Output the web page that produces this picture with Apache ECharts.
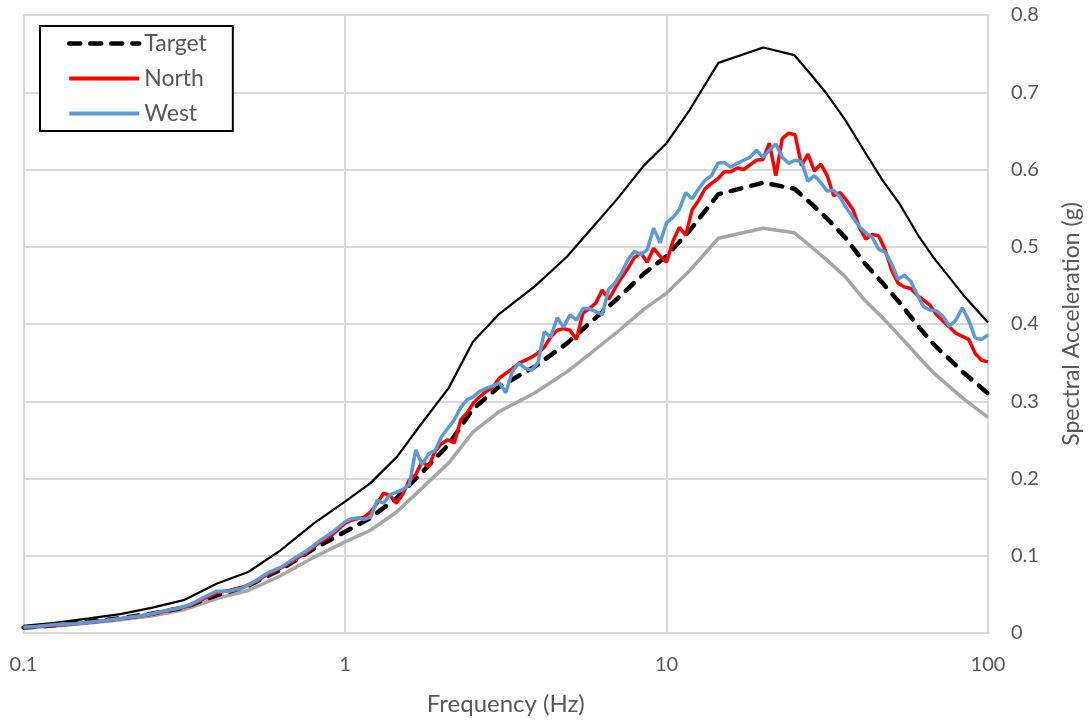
<!DOCTYPE html>
<html>
<head>
<meta charset="utf-8">
<script src="https://cdn.jsdelivr.net/npm/echarts@6/dist/echarts.min.js"></script>
<style>
html,body{margin:0;padding:0;background:#fff;}
#chart{width:1091px;height:724px;}
</style>
</head>
<body>
<div id="chart"></div>
<script>
// Bound / target spectra (frequency in Hz, acceleration in g)
var freqB = [0.1, 0.125, 0.16, 0.2, 0.25, 0.315, 0.4, 0.5, 0.63, 0.8, 1.0, 1.2, 1.45, 1.7, 2.1, 2.5, 3.0, 3.9, 4.9, 5.8, 7.0, 8.5, 10, 11.8, 14.5, 20, 25, 28, 31.5, 36, 41.5, 47, 53, 61, 68, 84, 100];
var target = [0.0072, 0.0100, 0.0148, 0.0190, 0.0250, 0.0330, 0.0490, 0.0610, 0.0820, 0.1090, 0.1310, 0.1490, 0.1750, 0.2040, 0.2440, 0.2900, 0.3180, 0.3450, 0.3750, 0.4020, 0.4320, 0.4650, 0.4880, 0.5210, 0.5680, 0.5830, 0.5750, 0.5570, 0.5370, 0.5120, 0.4780, 0.4530, 0.4280, 0.3960, 0.3730, 0.3370, 0.3100];
var upper = [0.0094, 0.0130, 0.0190, 0.0245, 0.0325, 0.0425, 0.0640, 0.0790, 0.1070, 0.1420, 0.1700, 0.1940, 0.2280, 0.2670, 0.3170, 0.3770, 0.4120, 0.4490, 0.4870, 0.5220, 0.5610, 0.6050, 0.6340, 0.6770, 0.7380, 0.7580, 0.7480, 0.7240, 0.6980, 0.6640, 0.6220, 0.5860, 0.5560, 0.5130, 0.4850, 0.4370, 0.4020];
var lower = [0.0065, 0.009, 0.013, 0.017, 0.022, 0.030, 0.045, 0.055, 0.074, 0.098, 0.118, 0.133, 0.157, 0.184, 0.220, 0.260, 0.286, 0.311, 0.338, 0.362, 0.389, 0.419, 0.440, 0.469, 0.511, 0.524, 0.518, 0.501, 0.483, 0.461, 0.430, 0.408, 0.385, 0.357, 0.336, 0.303, 0.279];

// Recorded spectra
var freq = [0.1, 0.1096, 0.1202, 0.1318, 0.1445, 0.1585, 0.1738, 0.1905, 0.2089, 0.2291, 0.2512, 0.2754, 0.302, 0.3311, 0.3631, 0.3981, 0.4365, 0.4786, 0.5248, 0.5754, 0.631, 0.6918, 0.7586, 0.8318, 0.912,
  1, 1.047, 1.096, 1.148, 1.202, 1.259, 1.318, 1.38, 1.445, 1.514, 1.585, 1.66, 1.738, 1.82, 1.905, 1.995, 2.089, 2.188, 2.291, 2.399, 2.512, 2.63, 2.754, 2.884, 3.02, 3.162, 3.311, 3.467, 3.631, 3.802, 3.981, 4.169, 4.365, 4.571, 4.786, 5.012, 5.248, 5.495, 5.754, 6.026, 6.31, 6.607, 6.918, 7.244, 7.586, 7.943, 8.318, 8.71, 9.12, 9.55,
  10, 10.47, 10.96, 11.48, 12.02, 12.59, 13.18, 13.8, 14.45, 15.14, 15.85, 16.6, 17.38, 18.2, 19.05, 19.95, 20.89, 21.88, 22.91, 23.99, 25.12, 26.3, 27.54, 28.84, 30.2, 31.62, 33.11, 34.67, 36.31, 38.02, 39.81, 41.69, 43.65, 45.71, 47.86, 50.12, 52.48, 54.95, 57.54, 60.26, 63.1, 66.07, 69.18, 72.44, 75.86, 79.43, 83.18, 87.1, 91.2, 95.5, 100];
var north = [0.0075, 0.0083, 0.0095, 0.0108, 0.0120, 0.0135, 0.0153, 0.0172, 0.0195, 0.0218, 0.0247, 0.0283, 0.0318, 0.0360, 0.0440, 0.0520, 0.0550, 0.0590, 0.0660, 0.0760, 0.0840, 0.0940, 0.1040, 0.1170, 0.1270,
  0.142, 0.146, 0.148, 0.150, 0.157, 0.168, 0.181, 0.178, 0.168, 0.180, 0.198, 0.205, 0.222, 0.215, 0.235, 0.245, 0.250, 0.246, 0.276, 0.285, 0.298, 0.306, 0.313, 0.318, 0.330, 0.336, 0.342, 0.349, 0.353, 0.357, 0.362, 0.370, 0.383, 0.392, 0.394, 0.392, 0.380, 0.414, 0.420, 0.427, 0.444, 0.432, 0.446, 0.460, 0.472, 0.486, 0.492, 0.480, 0.498, 0.488,
  0.480, 0.507, 0.525, 0.515, 0.548, 0.560, 0.575, 0.582, 0.588, 0.597, 0.597, 0.602, 0.600, 0.606, 0.612, 0.613, 0.634, 0.592, 0.640, 0.647, 0.645, 0.605, 0.620, 0.598, 0.607, 0.592, 0.566, 0.570, 0.560, 0.548, 0.525, 0.510, 0.516, 0.514, 0.496, 0.470, 0.453, 0.448, 0.446, 0.437, 0.431, 0.424, 0.412, 0.404, 0.396, 0.388, 0.384, 0.380, 0.362, 0.353, 0.351];
var west = [0.0075, 0.0085, 0.0100, 0.0115, 0.0118, 0.0135, 0.0155, 0.0175, 0.0197, 0.0220, 0.0250, 0.0290, 0.0320, 0.0370, 0.0460, 0.0540, 0.0540, 0.0580, 0.0670, 0.0780, 0.0850, 0.0960, 0.1060, 0.1190, 0.1300,
  0.144, 0.148, 0.149, 0.147, 0.150, 0.172, 0.168, 0.179, 0.182, 0.186, 0.192, 0.237, 0.218, 0.232, 0.236, 0.254, 0.265, 0.276, 0.292, 0.302, 0.306, 0.313, 0.317, 0.320, 0.324, 0.311, 0.338, 0.349, 0.343, 0.340, 0.350, 0.390, 0.383, 0.408, 0.396, 0.412, 0.405, 0.420, 0.420, 0.416, 0.412, 0.445, 0.453, 0.466, 0.483, 0.494, 0.490, 0.496, 0.524, 0.505,
  0.531, 0.538, 0.548, 0.570, 0.562, 0.575, 0.586, 0.592, 0.608, 0.609, 0.603, 0.608, 0.612, 0.616, 0.625, 0.616, 0.625, 0.633, 0.616, 0.608, 0.612, 0.610, 0.585, 0.592, 0.583, 0.572, 0.573, 0.564, 0.550, 0.538, 0.526, 0.518, 0.512, 0.497, 0.493, 0.478, 0.458, 0.463, 0.455, 0.438, 0.422, 0.418, 0.417, 0.410, 0.397, 0.405, 0.421, 0.405, 0.382, 0.380, 0.386];

var xTickLabels = ['0.1', '1', '10', '100'];

function pairs(xs, ys) { return xs.map(function (x, i) { return [x, ys[i]]; }); }

var FONT = 'Lato';
var TXT = '#595959';
var GRID = '#d9d9d9';
var DASH = [11, 10];

var chart = echarts.init(document.getElementById('chart'), null, {renderer: 'canvas'});
chart.setOption({
  animation: false,
  backgroundColor: '#ffffff',
  textStyle: {fontFamily: FONT},
  grid: {left: 23.5, right: 98, top: 15, bottom: 91, containLabel: false},
  legend: {
    data: [
      {name: 'Target', lineStyle: {color: '#000', width: 4.5, type: DASH, cap: 'round'}},
      {name: 'North', lineStyle: {color: '#ff0000', width: 4}},
      {name: 'West', lineStyle: {color: '#5b9bd5', width: 4}}
    ],
    orient: 'vertical',
    left: 40, top: 26,
    itemWidth: 70, itemHeight: 14, itemGap: 12,
    padding: [6, 26, 6, 27],
    borderColor: '#000', borderWidth: 2,
    backgroundColor: '#fff',
    itemStyle: {opacity: 0, borderWidth: 0},
    textStyle: {fontSize: 23, color: TXT, fontFamily: FONT}
  },
  xAxis: {
    type: 'log', logBase: 10, min: 0.1, max: 100,
    name: 'Frequency (Hz)', nameLocation: 'middle', nameGap: 59,
    nameTextStyle: {fontSize: 24, color: TXT, fontFamily: FONT},
    axisLine: {show: true, lineStyle: {color: GRID, width: 2}},
    axisTick: {show: false},
    minorTick: {show: false},
    splitLine: {show: true, lineStyle: {color: GRID, width: 2}},
    axisLabel: {
      fontSize: 20, color: TXT, fontFamily: FONT, margin: 22,
      formatter: function (v) {
        var lg = Math.round(Math.log10(v)) + 1;
        return xTickLabels[lg] !== undefined ? xTickLabels[lg] : '';
      }
    }
  },
  yAxis: {
    type: 'value', position: 'right', min: 0, max: 0.8, interval: 0.1,
    name: 'Spectral Acceleration (g)', nameLocation: 'middle', nameGap: 72, nameRotate: 90,
    nameTextStyle: {fontSize: 23, color: TXT, fontFamily: FONT},
    axisLine: {show: true, lineStyle: {color: GRID, width: 2}},
    axisTick: {show: false},
    splitLine: {show: true, lineStyle: {color: GRID, width: 2}},
    axisLabel: {
      fontSize: 20, color: TXT, fontFamily: FONT, margin: 23,
      formatter: function (v) { return String(Math.round(v * 10) / 10); }
    }
  },
  series: [
    {name: 'Lower', type: 'line', data: pairs(freqB, lower), symbol: 'none',
      lineStyle: {color: '#a6a6a6', width: 3.5}, z: 2},
    {name: 'Upper', type: 'line', data: pairs(freqB, upper), symbol: 'none',
      lineStyle: {color: '#000000', width: 2.2}, z: 2},
    {name: 'Target', type: 'line', data: pairs(freqB, target), symbol: 'none',
      itemStyle: {color: '#000000'},
      lineStyle: {color: '#000000', width: 4.5, type: DASH, cap: 'round'}, z: 3},
    {name: 'North', type: 'line', data: pairs(freq, north), symbol: 'none',
      itemStyle: {color: '#ff0000'},
      lineStyle: {color: '#ff0000', width: 3.5}, z: 4},
    {name: 'West', type: 'line', data: pairs(freq, west), symbol: 'none',
      itemStyle: {color: '#5b9bd5'},
      lineStyle: {color: '#5b9bd5', width: 3.5}, z: 5}
  ]
});
</script>
</body>
</html>
